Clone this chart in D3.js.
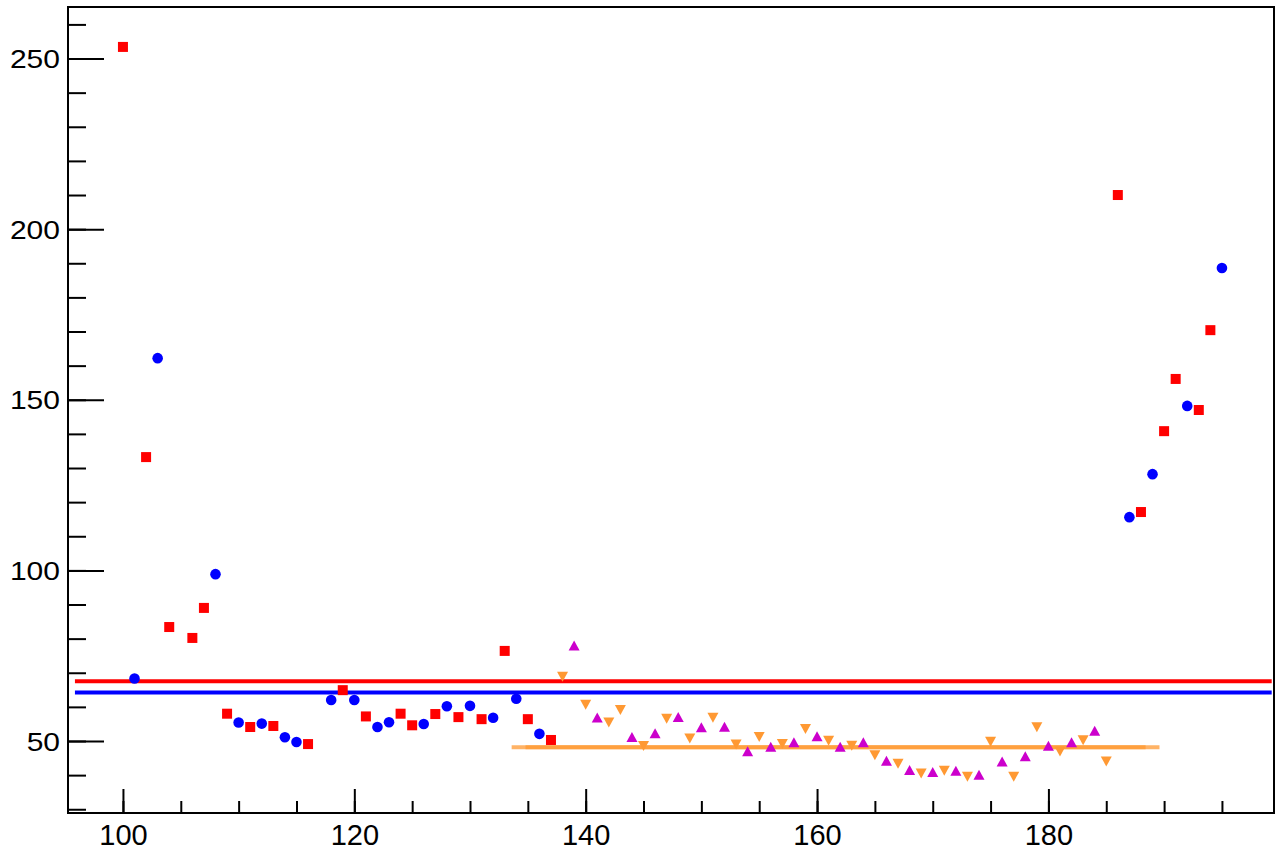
<!DOCTYPE html>
<html>
<head>
<meta charset="utf-8">
<script src="https://cdn.jsdelivr.net/npm/d3@7"></script>
<style>
  html, body { margin: 0; padding: 0; background: #fff; }
  svg { display: block; }
</style>
</head>
<body>
<svg id="chart" width="1276" height="851"></svg>
<script>
// ---- data ----
const redX  = [100, 102, 104, 106, 107, 109, 111, 113, 116, 119, 121, 124, 125, 127, 129, 131, 133, 135, 137,
               186, 188, 190, 191, 193, 194];
const redY  = [253.4, 133.2, 83.4, 80.2, 89.0, 58.0, 54.1, 54.4, 49.1, 64.9, 57.2, 58.0, 54.6, 57.9, 57.0, 56.4, 76.4, 56.4, 50.3,
               210.0, 117.1, 140.8, 156.1, 147.0, 170.4];
const blueX = [101, 103, 108, 110, 112, 114, 115, 118, 120, 122, 123, 126, 128, 130, 132, 134, 136,
               187, 189, 192, 195];
const blueY = [68.3, 162.2, 98.9, 55.4, 55.1, 51.1, 49.7, 62.0, 62.0, 54.1, 55.5, 55.0, 60.2, 60.3, 56.8, 62.4, 52.1,
               115.6, 128.2, 148.2, 188.6];
const magentaX = [139, 141, 144, 146, 148, 150, 152, 154, 156, 158, 160, 162, 164, 166, 168, 170, 172, 174,
                  176, 178, 180, 182, 184];
const magentaY = [78.0, 56.9, 51.2, 52.3, 57.0, 54.0, 54.2, 47.0, 48.3, 49.6, 51.4, 48.3, 49.6, 44.2, 41.5, 40.9, 41.3, 40.1,
                  44.0, 45.5, 48.6, 49.6, 53.0];
const orangeX = [138, 140, 142, 143, 145, 147, 149, 151, 153, 155, 157, 159, 161, 163, 165, 167, 169, 171, 173,
                 175, 177, 179, 181, 183, 185];
const orangeY = [68.8, 60.6, 55.4, 59.1, 48.5, 56.5, 50.7, 56.8, 49.0, 51.2, 49.1, 53.5, 50.1, 48.6, 45.8, 43.3, 40.5, 41.3, 39.5,
                 49.8, 39.5, 54.0, 46.9, 50.2, 44.0];

// horizontal reference levels: red, blue, orange (two overlapping segments)
const levelY     = [67.5, 64.2, 48.2, 48.2];
const levelStart = [95.85, 95.85, 133.6, 134.8];
const levelEnd   = [199.3, 199.3, 189.6, 188.4];

const xDomain = [95.25, 199.5];
const yDomain = [28.9, 265.1];
const xMajorTicks = [100, 120, 140, 160, 180];
const xMinorTicks = d3.range(100, 200, 5);
const yMajorTicks = [50, 100, 150, 200, 250];
const yMinorTicks = d3.range(30, 270, 10);

// ---- layout / styles ----
const L = 68, R = 1274, T = 7, B = 813;
const COL_RED = "#ff0000", COL_BLUE = "#0000ff", COL_MAG = "#cc00cc", COL_ORG = "#ff9933";
const levelColors = [COL_RED, COL_BLUE, COL_ORG, COL_ORG];
const levelOpacity = [1, 1, 0.75, 0.75];

const svg = d3.select("#chart");
const x = d3.scaleLinear().domain(xDomain).range([L, R]);
const y = d3.scaleLinear().domain(yDomain).range([B, T]);

// axes
const FONT = "'Liberation Sans', Arial, Helvetica, sans-serif";

const xMinor = svg.append("g").attr("transform", `translate(0,${B})`)
  .call(d3.axisBottom(x).tickValues(xMinorTicks).tickSize(-12).tickFormat(""));
const xMajor = svg.append("g").attr("transform", `translate(0,${B})`)
  .call(d3.axisBottom(x).tickValues(xMajorTicks).tickSize(-24).tickPadding(11).tickFormat(d3.format("d")));
const yMinor = svg.append("g").attr("transform", `translate(${L},0)`)
  .call(d3.axisLeft(y).tickValues(yMinorTicks).tickSize(-18).tickFormat(""));
const yMajor = svg.append("g").attr("transform", `translate(${L},0)`)
  .call(d3.axisLeft(y).tickValues(yMajorTicks).tickSize(-36).tickPadding(8).tickFormat(d3.format("d")));

[xMinor, xMajor, yMinor, yMajor].forEach(g => {
  g.select(".domain").remove();
  g.selectAll(".tick line").attr("stroke", "#000").attr("stroke-width", 2);
});
xMajor.selectAll(".tick text").attr("font-family", FONT).attr("font-size", 29).attr("fill", "#000");
yMajor.selectAll(".tick text")
  .attr("font-family", FONT).attr("font-size", 25).attr("fill", "#000")
  .attr("dy", "0.36em")
  .attr("x", null)
  .attr("transform", "translate(-8,0) scale(1.2,1)");

// frame
svg.append("rect")
  .attr("x", L).attr("y", T).attr("width", R - L).attr("height", B - T)
  .attr("fill", "none").attr("stroke", "#000").attr("stroke-width", 2);

// level lines
svg.append("g").selectAll("line")
  .data(levelY.map((v, i) => ({ v, x0: levelStart[i], x1: levelEnd[i], i })))
  .join("line")
  .attr("x1", d => x(d.x0)).attr("x2", d => x(d.x1))
  .attr("y1", d => y(d.v)).attr("y2", d => y(d.v))
  .attr("stroke", d => levelColors[d.i])
  .attr("stroke-opacity", d => levelOpacity[d.i])
  .attr("stroke-width", 4);

// markers
const zip = (xs, ys) => xs.map((v, i) => ({ x: v, y: ys[i] }));
const SQ = 10, CR = 5.3, TW = 11, TH = 10;

svg.append("g").selectAll("circle").data(zip(blueX, blueY)).join("circle")
  .attr("cx", d => x(d.x)).attr("cy", d => y(d.y)).attr("r", CR).attr("fill", COL_BLUE);

svg.append("g").selectAll("rect").data(zip(redX, redY)).join("rect")
  .attr("x", d => x(d.x) - SQ / 2).attr("y", d => y(d.y) - SQ / 2)
  .attr("width", SQ).attr("height", SQ).attr("fill", COL_RED);

const triUp = `M0,${-TH / 2}L${TW / 2},${TH / 2}L${-TW / 2},${TH / 2}Z`;
const triDown = `M0,${TH / 2}L${TW / 2},${-TH / 2}L${-TW / 2},${-TH / 2}Z`;

svg.append("g").selectAll("path").data(zip(magentaX, magentaY)).join("path")
  .attr("d", triUp).attr("transform", d => `translate(${x(d.x)},${y(d.y)})`).attr("fill", COL_MAG);

svg.append("g").selectAll("path").data(zip(orangeX, orangeY)).join("path")
  .attr("d", triDown).attr("transform", d => `translate(${x(d.x)},${y(d.y)})`).attr("fill", COL_ORG);
</script>
</body>
</html>
